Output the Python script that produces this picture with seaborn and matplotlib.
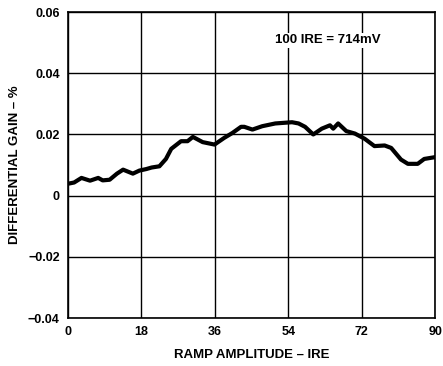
import matplotlib
matplotlib.use("Agg")
import matplotlib.pyplot as plt
import seaborn as sns
import pandas as pd

# values
ramp_ire = [0, 1.5, 3.3, 5.4, 7.4, 8.5, 10.2, 12, 13.5, 15.9, 17.5, 19.2, 20.5, 22.4, 24, 25.3,
            27.7, 29.3, 30.6, 33, 35.9, 38.3, 40.3, 42.4, 43.2, 45.2, 47.6, 50.8, 54.9, 56.5,
            58.1, 60.1, 62.2, 64.2, 65, 66.2, 68.2, 70.3, 72.7, 75.1, 77.6, 79.2, 81.6, 83.3,
            85.7, 87.3, 90]
diff_gain = [0.0039, 0.0043, 0.0058, 0.0049, 0.0058, 0.0050, 0.0052, 0.0072, 0.0085, 0.0072,
             0.0082, 0.0087, 0.0092, 0.0096, 0.0120, 0.0153, 0.0178, 0.0178, 0.0192, 0.0175,
             0.0167, 0.0189, 0.0205, 0.0225, 0.0225, 0.0216, 0.0227, 0.0236, 0.0240, 0.0236,
             0.0225, 0.0200, 0.0219, 0.0230, 0.0219, 0.0236, 0.0211, 0.0203, 0.0186, 0.0162,
             0.0164, 0.0156, 0.0118, 0.0104, 0.0104, 0.0120, 0.0126]
x_ticks = [0, 18, 36, 54, 72, 90]
y_ticks = [-0.04, -0.02, 0, 0.02, 0.04, 0.06]
y_labels = ["\u22120.04", "\u22120.02", "0", "0.02", "0.04", "0.06"]

sns.set_style("white")
plt.rcParams["font.family"] = ["Liberation Sans", "DejaVu Sans"]
plt.rcParams["font.weight"] = "bold"
plt.rcParams["text.color"] = "black"
plt.rcParams["axes.labelcolor"] = "black"

df = pd.DataFrame({"ire": ramp_ire, "gain": diff_gain})

fig = plt.figure(figsize=(4.43, 3.66), dpi=100)
ax = fig.add_axes([0.1535, 0.131, 0.829, 0.836])
sns.lineplot(data=df, x="ire", y="gain", ax=ax, color="black", linewidth=3.0)

ax.set_xlim(0, 90)
ax.set_ylim(-0.04, 0.06)
ax.set_xticks(x_ticks)
ax.set_yticks(y_ticks)
ax.set_yticklabels(y_labels)
ax.grid(True, color="black", linewidth=1)
ax.tick_params(length=0, labelsize=9, pad=6, colors="black")
for s in ax.spines.values():
    s.set_color("black")
    s.set_linewidth(1.2)

ax.set_xlabel("RAMP AMPLITUDE \u2013 IRE", fontsize=9.5, fontweight="bold", labelpad=8)
ax.set_ylabel("DIFFERENTIAL GAIN \u2013 %", fontsize=9.5, fontweight="bold", labelpad=5)

ax.text(63.7, 0.0508, "100 IRE = 714mV", fontsize=9.5, fontweight="bold", ha="center",
        va="center", bbox=dict(facecolor="white", edgecolor="none", pad=1))

fig.savefig("out.png", dpi=100)
